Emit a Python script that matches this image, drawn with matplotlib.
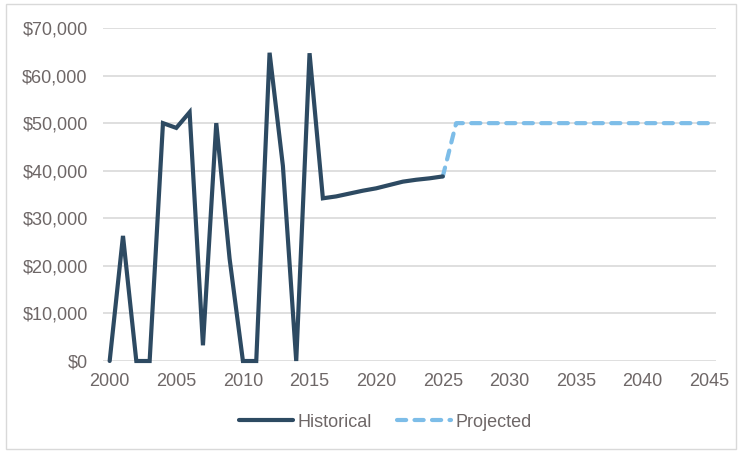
import matplotlib.pyplot as plt
from matplotlib.patches import Rectangle
from matplotlib.ticker import FuncFormatter

plt.rcParams['font.family'] = ['Liberation Sans', 'DejaVu Sans']

# values
hist_years = list(range(2000, 2026))
hist_values = [0, 26300, 0, 0, 50000, 49000, 52300, 3300, 50000, 21500,
               0, 0, 64800, 41000, 0, 64700, 34200, 34600, 35200, 35800,
               36300, 37000, 37700, 38100, 38400, 38800]
proj_years = list(range(2025, 2046))
proj_values = [38800] + [50000] * 20

x_ticks = list(range(2000, 2046, 5))
y_ticks = list(range(0, 70001, 10000))

hist_color = '#2D4A62'
proj_color = '#7DBDE8'
text_color = '#6E6767'

fig = plt.figure(figsize=(7.41, 4.53), dpi=100)
# category axis: points sit in the middle of each year slot
ax = fig.add_axes([103 / 741, 1 - 361 / 453, 613 / 741, 333 / 453])

ax.plot(hist_years, hist_values, color=hist_color, lw=3, label='Historical',
        solid_capstyle='round', solid_joinstyle='miter', clip_on=False, zorder=3)
ax.plot(proj_years, proj_values, color=proj_color, lw=3, ls=(0, (2.2, 2.0)),
        label='Projected', dash_capstyle='round', clip_on=False, zorder=2)

ax.set_xlim(1999.5, 2045.5)
ax.set_ylim(0, 70000)
ax.set_xticks(x_ticks)
ax.set_yticks(y_ticks)
ax.yaxis.set_major_formatter(FuncFormatter(lambda v, p: '${:,.0f}'.format(v)))
ax.tick_params(length=0, labelsize=13, colors=text_color)
ax.tick_params(axis='y', pad=11)
ax.tick_params(axis='x', pad=9)
ax.grid(axis='y', color='#D9D9D9', lw=1.2)
ax.set_axisbelow(True)
for s in ax.spines.values():
    s.set_visible(False)

leg = fig.legend(loc='center', bbox_to_anchor=(0.52, 0.068), ncol=2, frameon=False,
                 fontsize=13, handlelength=3.0, columnspacing=1.4, handletextpad=0.25)
for t in leg.get_texts():
    t.set_color(text_color)

fig.patches.append(Rectangle((6 / 741, 4 / 453), 730 / 741, 445 / 453,
                             transform=fig.transFigure, fill=False,
                             edgecolor='#D9D9D9', lw=1))

fig.savefig('out.png', dpi=100)
